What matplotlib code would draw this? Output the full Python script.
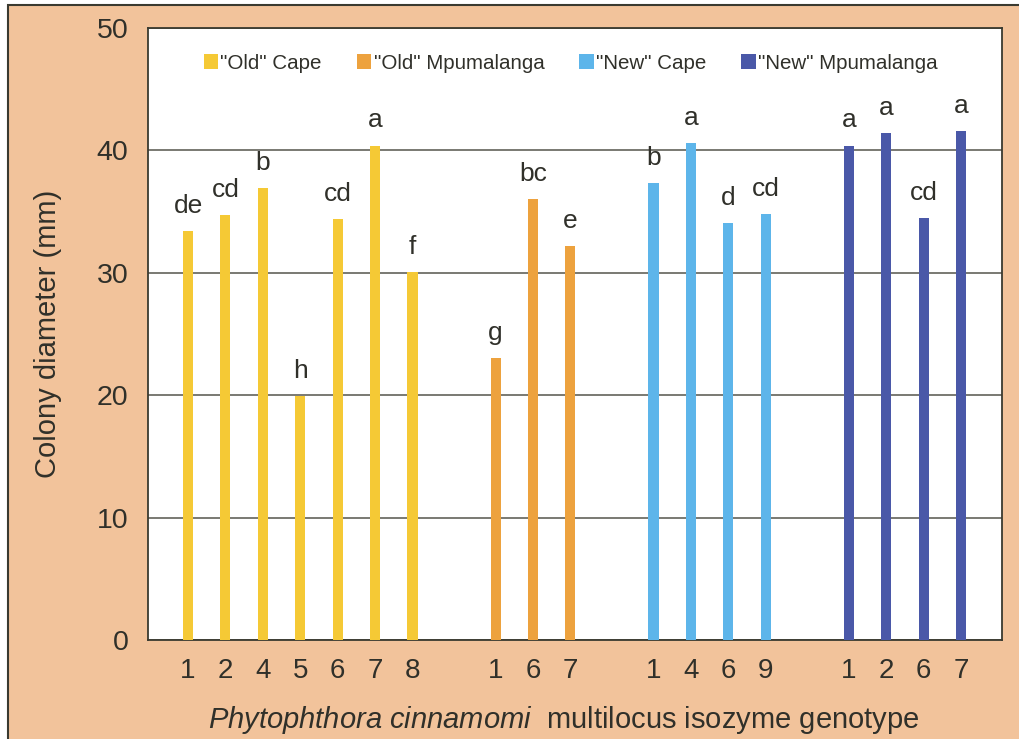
import matplotlib.pyplot as plt
from matplotlib.patches import Rectangle

plt.rcParams['font.family'] = ['Liberation Sans', 'DejaVu Sans']
plt.rcParams['mathtext.fontset'] = 'custom'
plt.rcParams['mathtext.it'] = 'Liberation Sans:italic'
plt.rcParams['mathtext.rm'] = 'Liberation Sans'

groups = ['"Old" Cape', '"Old" Mpumalanga', '"New" Cape', '"New" Mpumalanga']
colors = ['#F5C935', '#EDA23E', '#5DB5EA', '#4A58A8']
genotypes = [
    ['1', '2', '4', '5', '6', '7', '8'],
    ['1', '6', '7'],
    ['1', '4', '6', '9'],
    ['1', '2', '6', '7'],
]
diameters = [
    [33.4, 34.7, 36.9, 19.9, 34.4, 40.4, 30.1],
    [23.0, 36.0, 32.2],
    [37.3, 40.6, 34.1, 34.8],
    [40.4, 41.4, 34.5, 41.6],
]
letters = [
    ['de', 'cd', 'b', 'h', 'cd', 'a', 'f'],
    ['g', 'bc', 'e'],
    ['b', 'a', 'd', 'cd'],
    ['a', 'a', 'cd', 'a'],
]
slot_start = [0, 8, 12, 17]

ink = '#30302a'
peach = '#F2C39B'

fig = plt.figure(figsize=(10.2, 7.39), dpi=100, facecolor='white')
bg = Rectangle((8 / 1020, -0.05), 1.1, 1 - 5 / 739 + 0.05,
               transform=fig.transFigure, facecolor=peach,
               edgecolor='#3a3a30', linewidth=1.5, zorder=-10)
fig.add_artist(bg)
ax = fig.add_axes([148 / 1020, 99 / 739, 854 / 1020, 612 / 739])
ax.set_facecolor('white')

ticks, ticklabels = [], []
for s in range(4):
    xs = [slot_start[s] + i + s * 0.222 for i in range(len(genotypes[s]))]
    ax.bar(xs, diameters[s], width=0.27, color=colors[s], label=groups[s], zorder=3)
    for x, v, t in zip(xs, diameters[s], letters[s]):
        ax.annotate(t, (x, v), xytext=(0, 13), textcoords='offset points',
                    ha='center', va='baseline', fontsize=19, color=ink)
    ticks += xs
    ticklabels += genotypes[s]

ax.set_xlim(-1.07, 21.76)
ax.set_ylim(0, 50)
ax.set_yticks([0, 10, 20, 30, 40, 50])
ax.set_xticks(ticks)
ax.set_xticklabels(ticklabels)
ax.tick_params(axis='y', length=0, pad=14, labelsize=20.5, labelcolor=ink)
ax.tick_params(axis='x', length=0, pad=13, labelsize=20, labelcolor=ink)
ax.grid(axis='y', color='#55554c', linewidth=1.1, zorder=1)
for sp in ax.spines.values():
    sp.set_color('#3a3a30')
    sp.set_linewidth(1.3)

ax.set_ylabel('Colony diameter (mm)', fontsize=21, color=ink, labelpad=25)
ax.set_xlabel('$\\it{Phytophthora\\ cinnamomi}$  multilocus isozyme genotype',
              fontsize=21, color=ink)
ax.xaxis.set_label_coords(0.487, -0.104)

ax.legend(loc='upper center', bbox_to_anchor=(0.495, 0.988), ncol=4, frameon=False,
          fontsize=14.8, handlelength=0.7, handleheight=0.7, handletextpad=0.12,
          columnspacing=1.7, labelcolor=ink)

fig.savefig('out.png', dpi=100, facecolor=fig.get_facecolor())
